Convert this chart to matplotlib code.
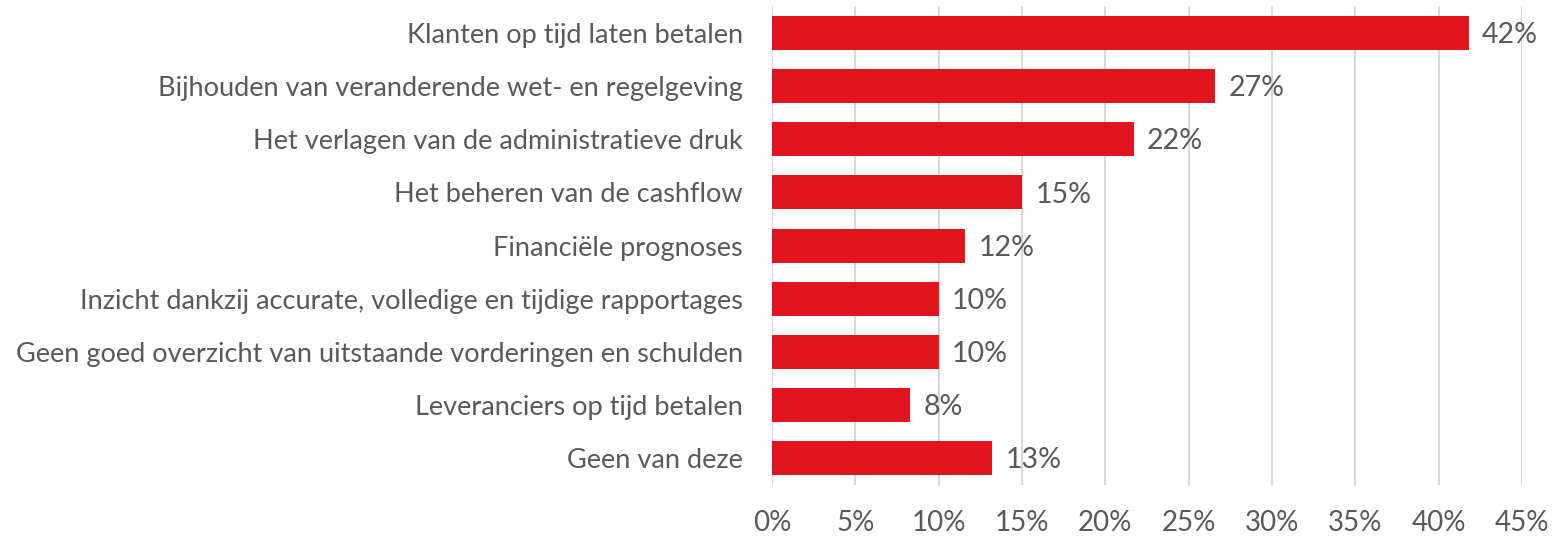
import matplotlib
matplotlib.use('Agg')
import matplotlib.pyplot as plt
from matplotlib.ticker import FuncFormatter

# Data
categories = [
    'Klanten op tijd laten betalen',
    'Bijhouden van veranderende wet- en regelgeving',
    'Het verlagen van de administratieve druk',
    'Het beheren van de cashflow',
    'Financiële prognoses',
    'Inzicht dankzij accurate, volledige en tijdige rapportages',
    'Geen goed overzicht van uitstaande vorderingen en schulden',
    'Leveranciers op tijd betalen',
    'Geen van deze',
]
values = [41.8, 26.6, 21.7, 15.0, 11.6, 10.0, 10.0, 8.3, 13.2]
x_ticks = [0, 5, 10, 15, 20, 25, 30, 35, 40, 45]

BAR_COLOR = '#E2141E'
TEXT_COLOR = '#595959'
GRID_COLOR = '#D9D9D9'

plt.rcParams['font.family'] = ['Lato', 'DejaVu Sans']

fig = plt.figure(figsize=(15.55, 5.41), dpi=100)
ax = fig.add_axes([0.4965, 0.1044, 0.4823, 0.8836])

y_pos = list(range(len(categories)))
ax.barh(y_pos, values, height=0.64, color=BAR_COLOR, zorder=3)

# Data labels
for y, v in zip(y_pos, values):
    ax.text(v + 0.8, y + 0.04, f'{round(v)}%', va='center', ha='left',
            fontsize=20.5, color=TEXT_COLOR)

ax.set_yticks(y_pos)
ax.set_yticklabels(categories, fontsize=19.5, color=TEXT_COLOR)
ax.set_ylim(len(categories) - 0.5, -0.5)

ax.set_xlim(0, 45)
ax.set_xticks(x_ticks)
ax.xaxis.set_major_formatter(FuncFormatter(lambda v, p: f'{v:.0f}%'))
ax.tick_params(axis='x', labelsize=20, colors=TEXT_COLOR, length=0, pad=18)
ax.tick_params(axis='y', length=0, pad=21)

ax.grid(axis='x', color=GRID_COLOR, linewidth=1.5, zorder=0)
for s in ax.spines.values():
    s.set_visible(False)

plt.savefig('out.png', dpi=100)
